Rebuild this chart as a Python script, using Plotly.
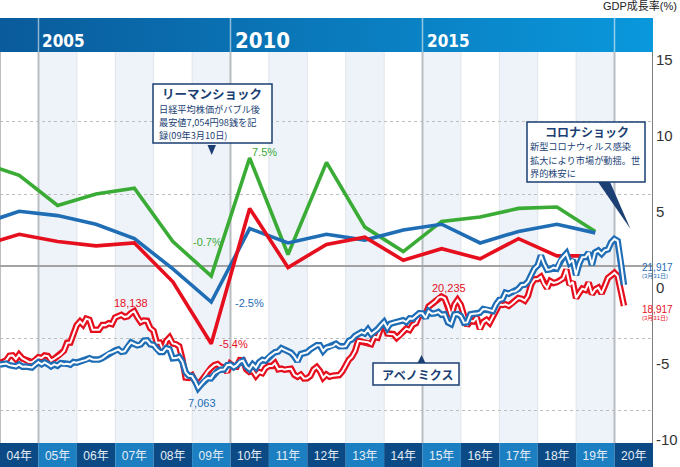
import plotly.graph_objects as go
import pandas as pd

# ---------------- data ----------------
gdp_years = [2003, 2004, 2005, 2006, 2007, 2008, 2009, 2010, 2011, 2012,
             2013, 2014, 2015, 2016, 2017, 2018, 2019]
gdp_green = [7.2, 6.3, 4.2, 5.0, 5.4, 1.7, -0.7, 7.5, 0.8, 7.2, 2.7, 1.0, 3.1, 3.4, 4.0, 4.1, 2.4]
gdp_blue = [2.9, 3.8, 3.5, 2.9, 1.9, -0.2, -2.5, 2.6, 1.6, 2.2, 1.8, 2.5, 2.9, 1.6, 2.4, 2.9, 2.3]
gdp_red = [1.4, 2.2, 1.7, 1.4, 1.6, -1.1, -5.4, 4.0, -0.1, 1.5, 2.0, 0.4, 1.2, 0.5, 1.9, 0.7, 0.7]

stock_first_month = '2003-12-01'
nikkei = [10677,
          10784, 11042, 11715, 11762, 11236, 11859, 11326, 11082, 10824, 10771, 11069, 11489,
          11388, 11741, 11669, 11009, 11277, 11585, 11900, 12414, 13574, 13607, 14872, 16111,
          16650, 16205, 17060, 16906, 15468, 15505, 15457, 16141, 16128, 16399, 16274, 17226,
          17383, 17604, 17288, 17400, 17876, 18138, 17249, 16569, 16786, 16738, 15681, 15308,
          13592, 13603, 12526, 13850, 14339, 13481, 13377, 13073, 11260, 8577, 8512, 8860,
          7994, 7568, 8110, 8828, 9523, 9958, 10357, 10493, 10133, 10035, 9346, 10546,
          10198, 10126, 11090, 11057, 9769, 9383, 9537, 8824, 9369, 9202, 9937, 10229,
          10238, 10624, 9755, 9850, 9694, 9816, 9833, 8955, 8700, 8988, 8435, 8455,
          8803, 9723, 10084, 9521, 8543, 9007, 8695, 8840, 8870, 8928, 9446, 10395,
          11139, 11559, 12398, 13861, 13775, 13677, 13668, 13389, 14456, 14328, 15662, 16291,
          14915, 14841, 14828, 14304, 14632, 15162, 15621, 15425, 16174, 16414, 17460, 17451,
          17674, 18798, 19207, 19520, 20100, 20235, 20000, 18890, 17388, 19083, 19747, 19034,
          17518, 16027, 16759, 16666, 17235, 15576, 16569, 16887, 16450, 17425, 18308, 19114,
          19041, 19119, 18909, 19197, 19651, 20033, 19925, 19646, 20356, 22012, 22725, 22765,
          23098, 22068, 21454, 22468, 22202, 22305, 22554, 22865, 24120, 21920, 22351, 20015,
          20773, 21385, 21206, 22259, 20601, 21276, 21522, 20704, 21756, 22927, 23294, 23657,
          23205, 21143, 18917]
dow = [10454,
       10488, 10584, 10358, 10226, 10188, 10435, 10140, 10174, 10080, 10027, 10428, 10783,
       10490, 10766, 10504, 10193, 10467, 10275, 10641, 10482, 10569, 10440, 10806, 10718,
       10865, 10993, 11109, 11367, 11168, 11150, 11186, 11381, 11679, 12081, 12222, 12463,
       12622, 12269, 12354, 13063, 13628, 13409, 13212, 13358, 13896, 13930, 13372, 13265,
       12650, 12266, 12263, 12820, 12638, 11350, 11378, 11544, 10851, 9325, 8829, 8776,
       8001, 7063, 7609, 8168, 8500, 8447, 9172, 9496, 9712, 9713, 10345, 10428,
       10067, 10325, 10857, 11009, 10137, 9774, 10466, 10015, 10788, 11118, 11006, 11578,
       11892, 12226, 12320, 12811, 12570, 12414, 12143, 11614, 10913, 11955, 12046, 12218,
       12633, 12952, 13212, 13214, 12393, 12880, 13009, 13091, 13437, 13096, 13026, 13104,
       13861, 14054, 14579, 14840, 15116, 14910, 15500, 14810, 15130, 15546, 16086, 16577,
       15699, 16322, 16458, 16581, 16717, 16827, 16563, 17098, 17043, 17391, 17828, 17823,
       17165, 18133, 17776, 17841, 18011, 17620, 17690, 16528, 16285, 17664, 17720, 17425,
       16466, 16517, 17685, 17774, 17787, 17930, 18432, 18401, 18308, 18142, 19124, 19763,
       19864, 20812, 20663, 20941, 21009, 21350, 21891, 21948, 22405, 23377, 24272, 24719,
       26149, 25029, 24103, 24163, 24416, 24271, 25415, 25965, 26458, 25116, 25538, 23327,
       24999, 25916, 25929, 26593, 24815, 26600, 26864, 26403, 26917, 27046, 28051, 28538,
       28256, 25409, 21917]

axis_years = [2004, 2005, 2006, 2007, 2008, 2009, 2010, 2011, 2012, 2013,
              2014, 2015, 2016, 2017, 2018, 2019, 2020]
year_tick_labels = ['04年', '05年', '06年', '07年', '08年', '09年', '10年', '11年', '12年',
                    '13年', '14年', '15年', '16年', '17年', '18年', '19年', '20年']
header_years = [2005, 2010, 2015]
right_tick_values = [15, 10, 5, 0, -5, -10]
right_tick_labels = ['15', '10', '5', '0', '-5', '-10']

lehman_title = 'リーマンショック'
lehman_lines = ['日経平均株価がバブル後', '最安値7,054円98銭を記', '録(09年3月10日)']
corona_title = 'コロナショック'
corona_lines = ['新型コロナウィルス感染', '拡大により市場が動揺。世', '界的株安に']
abe_title = 'アベノミクス'

# ---------------- styling ----------------
RED = '#e60f1e'
BLUE = '#1f6db5'
GREEN = '#3aab35'
NAVY = '#1b3f73'
JP = 'Noto Sans CJK JP'
LAT = 'Liberation Sans, Noto Sans CJK JP'
COND = 'DejaVu Sans Condensed, DejaVu Sans'

W, H = 680, 467
ML, MR, MT, MB = 0, 27, 18, 24
PW = W - ML - MR              # 653
PH = H - MT - MB              # 425
MAIN_TOP = 52                 # pixel y of main plot top (header bottom)
main_dom_top = (H - MB - MAIN_TOP) / PH


def px(x):
    return (x - ML) / PW


def py(y):
    return (H - MB - y) / PH


gdp_x = [f'{y}-07-02' for y in gdp_years]
stock_x = list((pd.date_range(stock_first_month, periods=len(nikkei), freq='MS')
                + pd.offsets.MonthEnd(0)).strftime('%Y-%m-%d'))
x_start = f'{axis_years[0]}-01-01'
x_end = f'{axis_years[-1] + 1}-01-01'

fig = go.Figure()

# header band (gradient)
fig.add_trace(go.Scatter(
    x=[x_start, x_end, x_end, x_start, x_start], y=[0, 0, 1, 1, 0],
    xaxis='x', yaxis='y4', mode='lines', fill='toself',
    fillgradient=dict(type='horizontal',
                      colorscale=[[0, '#0a5b9b'], [1, '#0a98dc']]),
    line=dict(width=0), hoverinfo='skip', showlegend=False))

# GDP lines
for vals, col in [(gdp_green, GREEN), (gdp_blue, BLUE), (gdp_red, RED)]:
    fig.add_trace(go.Scatter(x=gdp_x, y=vals, yaxis='y', mode='lines',
                             line=dict(color=col, width=3.6), hoverinfo='skip',
                             showlegend=False))

# stock lines (double line)
for vals, col in [(nikkei, RED), (dow, BLUE)]:
    fig.add_trace(go.Scatter(x=stock_x, y=vals, yaxis='y2', mode='lines',
                             line=dict(color=col, width=6.5), hoverinfo='skip',
                             showlegend=False))
    fig.add_trace(go.Scatter(x=stock_x, y=vals, yaxis='y2', mode='lines',
                             line=dict(color='white', width=2), hoverinfo='skip',
                             showlegend=False))

# invisible trace carrying the right-hand label axis
fig.add_trace(go.Scatter(x=[], y=[], yaxis='y3', showlegend=False))

shapes = []
# column shading
for y in axis_years:
    if y % 2 == 1:
        shapes.append(dict(type='rect', xref='x', yref='y domain',
                           x0=f'{y}-01-01', x1=f'{y + 1}-01-01', y0=0, y1=1,
                           fillcolor='#edf3f9', line=dict(width=0), layer='below'))
# year boundary lines
for y in axis_years[1:]:
    major = (y % 5 == 0)
    shapes.append(dict(type='line', xref='x', yref='y domain',
                       x0=f'{y}-01-01', x1=f'{y}-01-01', y0=0, y1=1,
                       line=dict(color='#b9bdc2' if major else '#e0e4e9',
                                 width=2 if major else 1), layer='below'))
shapes.append(dict(type='line', xref='x', yref='y domain', x0=x_start, x1=x_start,
                   y0=0, y1=1, line=dict(color='#a8a8a8', width=1.5), layer='below'))
shapes.append(dict(type='line', xref='x', yref='y domain', x0=x_end, x1=x_end,
                   y0=0, y1=1, line=dict(color='#7c7c7c', width=2), layer='above'))
# header dividers
for y in axis_years[1:]:
    if y % 5 == 0:
        shapes.append(dict(type='line', xref='x', yref='y4 domain',
                           x0=f'{y}-01-01', x1=f'{y}-01-01', y0=0, y1=1,
                           line=dict(color='rgba(255,255,255,0.55)', width=1.5),
                           layer='above'))
# bottom year band
for y in axis_years:
    shapes.append(dict(type='rect', xref='x', yref='paper',
                       x0=f'{y}-01-01', x1=f'{y + 1}-01-01', y0=-MB / PH, y1=0,
                       fillcolor='#0b4a85' if y % 2 == 0 else '#1b7fc1',
                       line=dict(width=0), layer='below'))


def box(x0, y0, x1, y1):
    return dict(type='rect', xref='paper', yref='paper',
                x0=px(x0), x1=px(x1), y0=py(y1), y1=py(y0),
                fillcolor='white', line=dict(color=NAVY, width=1.5), layer='above')


def tri(pts):
    path = 'M ' + ' L '.join(f'{px(a):.5f},{py(b):.5f}' for a, b in pts) + ' Z'
    return dict(type='path', xref='paper', yref='paper', path=path,
                fillcolor=NAVY, line=dict(width=0), layer='above')


shapes += [
    box(153, 84, 272, 143),
    tri([(207.5, 145), (216, 145), (211.7, 155)]),
    box(527, 122, 645, 182),
    tri([(598, 182), (610, 182), (630.5, 229)]),
    box(373, 363, 459, 385),
    tri([(417.5, 363), (425.5, 363), (421.5, 355)]),
]

ann = []


def txt(text, x, y, size, color, xanchor='center', family=LAT, bold=False):
    t = f'<b>{text}</b>' if bold else text
    ann.append(dict(text=t, xref='paper', yref='paper', x=px(x), y=py(y),
                    xanchor=xanchor, yanchor='middle', align='left', showarrow=False,
                    borderpad=0, font=dict(size=size, color=color, family=family)))


# Lehman box
txt(lehman_title, 212, 93, 12.5, NAVY, family=JP, bold=True)
for k, line in enumerate(lehman_lines):
    txt(line, 158, 109 + 13 * k, 9.2, NAVY, 'left', JP)
# Corona box
txt(corona_title, 586.5, 131, 12, NAVY, family=JP, bold=True)
for k, line in enumerate(corona_lines):
    txt(line, 529, 146.4 + 13.4 * k, 9.2, NAVY, 'left', JP)
# Abenomics box
txt(abe_title, 417, 374, 12, NAVY, family=JP, bold=True)
# top-right unit
ann.append(dict(text='GDP成長率(%)', xref='paper', yref='paper', x=px(679), y=py(6),
                xanchor='right', yanchor='middle', showarrow=False,
                font=dict(size=11, color='#222', family=LAT)))

# header year labels
for y in header_years:
    big = (y == 2010)
    ann.append(dict(text=f'<b>{y}</b>', xref='x', yref='y4', x=f'{y}-01-01', y=0,
                    xanchor='left', yanchor='bottom', xshift=2,
                    yshift=-3 if big else -1, showarrow=False,
                    font=dict(size=22 if big else 17, color='white', family=COND)))


def val_label(text, x, y, yref, color, xshift, yshift, size=11, xanchor='center'):
    ann.append(dict(text=text, xref='x', yref=yref, x=x, y=y, xanchor=xanchor,
                    yanchor='middle', xshift=xshift, yshift=yshift, showarrow=False,
                    font=dict(size=size, color=color, family=LAT)))


i09 = gdp_years.index(2009)
i10 = gdp_years.index(2010)
val_label(f'{gdp_green[i10]}%', gdp_x[i10], gdp_green[i10], 'y', GREEN, 15, 6)
val_label(f'{gdp_green[i09]}%', gdp_x[i09], gdp_green[i09], 'y', GREEN, -4, 34)
val_label(f'{gdp_blue[i09]}%', gdp_x[i09], gdp_blue[i09], 'y', BLUE, 38, -1)
val_label(f'{gdp_red[i09]}%', gdp_x[i09], gdp_red[i09], 'y', RED, 22, 0)

i_nk07 = stock_x.index('2007-06-30')
i_dw09 = stock_x.index('2009-02-28')
i_nk15 = stock_x.index('2015-06-30')
val_label(f'{nikkei[i_nk07]:,}', stock_x[i_nk07], nikkei[i_nk07], 'y2', RED, -3, 8)
val_label(f'{dow[i_dw09]:,}', stock_x[i_dw09], dow[i_dw09], 'y2', BLUE, 4, -15)
val_label(f'{nikkei[i_nk15]:,}', stock_x[i_nk15], nikkei[i_nk15], 'y2', RED, 8, 9)
val_label(f'{dow[-1]:,}', stock_x[-1], dow[-1], 'y2', BLUE, 16, 17, 10, 'left')
val_label('(3月31日)', stock_x[-1], dow[-1], 'y2', BLUE, 16, 8, 6, 'left')
val_label(f'{nikkei[-1]:,}', stock_x[-1], nikkei[-1], 'y2', RED, 16, -4, 10, 'left')
val_label('(3月31日)', stock_x[-1], nikkei[-1], 'y2', RED, 16, -13, 6, 'left')

fig.update_layout(
    template='none',
    width=W, height=H,
    margin=dict(l=ML, r=MR, t=MT, b=MB, pad=0),
    paper_bgcolor='white', plot_bgcolor='white',
    showlegend=False, hovermode=False,
    font=dict(family=LAT, color='#333'),
    xaxis=dict(type='date', range=[x_start, x_end], domain=[0, 1], anchor='y',
               showgrid=False, zeroline=False, showline=False,
               tickmode='array', tickvals=[f'{y}-07-02' for y in axis_years],
               ticktext=year_tick_labels, ticks='outside', ticklen=2,
               tickcolor='rgba(0,0,0,0)', automargin=False,
               tickfont=dict(size=12, color='#e6edf5', family=LAT)),
    yaxis=dict(domain=[0, main_dom_top], range=[-12.29, 14.86],
               showticklabels=False, tickmode='array', tickvals=[-10, -5, 5, 10],
               showgrid=True, gridcolor='#bdbdbd', griddash='dot', gridwidth=1,
               zeroline=True, zerolinecolor='#a3a3a3', zerolinewidth=2,
               showline=False, automargin=False),
    yaxis2=dict(overlaying='y', range=[-865, 55500], visible=False),
    yaxis3=dict(overlaying='y', side='right', anchor='x', range=[-10.197, 15.526],
                tickmode='array', tickvals=right_tick_values, ticktext=right_tick_labels,
                showgrid=False, zeroline=False, showline=False, ticks='',
                ticklabelstandoff=2, automargin=False,
                tickfont=dict(size=15, color='#333', family='Liberation Sans, Arial')),
    yaxis4=dict(domain=[main_dom_top, 1], range=[0, 1], visible=False, anchor='x'),
    shapes=shapes,
    annotations=ann,
)

fig.write_html('out.html',
               config={'displayModeBar': False, 'staticPlot': True},
               post_script="document.body.style.margin='0';"
                           "document.body.style.overflow='hidden';")
